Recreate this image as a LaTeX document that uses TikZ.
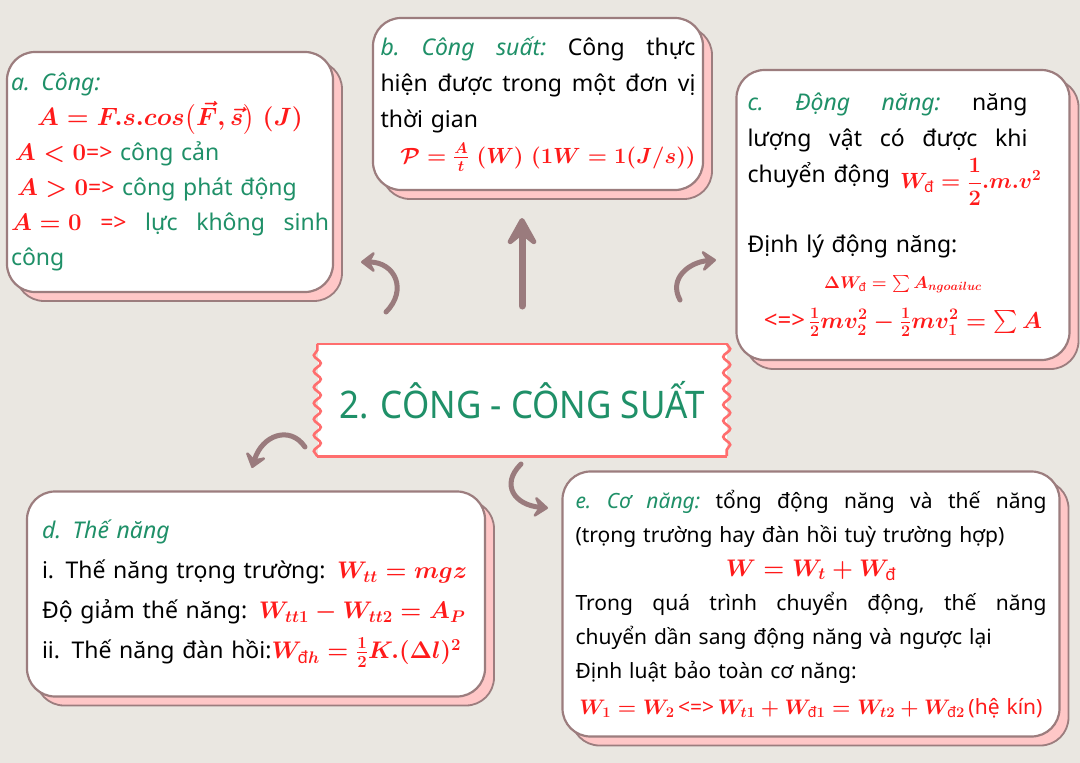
\documentclass[tikz,border=0pt]{standalone}
\usepackage{fix-cm}
\usepackage{amsmath, amssymb}
\usepackage{graphicx}
\usepackage{fontspec}
\setmainfont{Noto Sans}
\usepackage{xcolor}
\usetikzlibrary{arrows.meta, positioning, shadows, decorations.pathmorphing}

\definecolor{paper}{HTML}{EAE7E1}
\definecolor{edgebrown}{HTML}{9C7D7E}
\definecolor{arrowbrown}{HTML}{9A7B7D}
\definecolor{shadowpink}{HTML}{FFC7C7}
\definecolor{leafgreen}{HTML}{1F9068}
\definecolor{formred}{HTML}{FF1A1A}
\definecolor{tapered}{HTML}{FF6E6E}

\newcommand{\mathsz}{23}
\newcommand{\fml}[1]{\mbox{\color{formred}\fontsize{\mathsz}{\mathsz}\selectfont\boldmath$#1$}}
\newcommand{\head}[1]{{\color{leafgreen}\itshape #1}}
\newcommand{\spread}[2]{\makebox[#1][s]{\frenchspacing\spaceskip=0.28em plus 3em\relax #2}}
\newcommand{\midline}[2]{\makebox[#1]{#2}}
\newcommand{\dsub}{\text{\bfseries đ}}
\newcommand{\redtxt}[1]{{\color{formred}#1}}

\begin{document}
\begin{tikzpicture}[
  x=1pt, y=-1pt,
  box/.style={draw=edgebrown, line width=2.2pt, fill=white, rounded corners=28pt,
    align=left, inner sep=0pt, font=\fontsize{23}{35}\selectfont,
    drop shadow={shadow xshift=9pt, shadow yshift=-9pt, fill=shadowpink,
      draw=edgebrown, line width=1.8pt, opacity=1}},
  titlebox/.style={fill=white, inner sep=0pt, minimum width=409pt, minimum height=112pt,
    text=leafgreen, font=\fontsize{38}{40}\selectfont},
  tapeedge/.style={draw=tapered, line width=2.6pt},
  flick/.style={draw=arrowbrown, line width=5pt, line cap=round,
    -{Stealth[round, length=17pt, width=26pt, inset=7pt]}},
  bigflick/.style={draw=arrowbrown, line width=7pt, line cap=round,
    -{Stealth[round, length=36pt, width=40pt, inset=16pt]}}
]
\fill[paper] (0,0) rectangle (1080,763);
\useasboundingbox (0,0) rectangle (1080,763);

% boxes
\node[box, text=leafgreen, minimum width=326pt, minimum height=240pt, text width=318pt] (cong) at (170,172) {%
\renewcommand{\mathsz}{24}%
\head{a. Công:}\\
\midline{318pt}{\renewcommand{\mathsz}{25}\fml{A = F.s.cos\bigl(\vec{F},\vec{s}\bigr)\ (J)}}\\
\hspace*{4pt}\fml{A<0}\redtxt{=>} công cản\\
\hspace*{6pt}\fml{A>0}\redtxt{=>} công phát động\\
\spread{318pt}{\fml{A=0} \redtxt{=>} lực không sinh}\\
công};

\node[box, minimum width=330pt, minimum height=172pt, text width=315pt,
  font=\fontsize{23}{36}\selectfont] (suat) at (538,104) {%
\spread{315pt}{\head{b. Công suất:} Công thực}\\
\spread{315pt}{hiện được trong một đơn vị}\\
thời gian\\
\makebox[315pt][r]{\renewcommand{\mathsz}{22}\fml{\mathcal{P}=\frac{A}{t}\ (W)\ (1W=1(J/s))}}};

\node[box, minimum width=333pt, minimum height=290pt, text width=311pt,
  font=\fontsize{23}{36}\selectfont] (dong) at (903,215) {%
\spread{280pt}{\head{c. Động năng:} năng}\\
\spread{280pt}{lượng vật có được khi}\\
\mbox{chuyển động\hspace{10pt}\raisebox{-6pt}{\renewcommand{\mathsz}{22}\fml{W_{\dsub}=\dfrac{1}{2}.m.v^2}}}\\[28pt]
Định lý động năng:\\
\midline{311pt}{\renewcommand{\mathsz}{17}\fml{\Delta W_{\dsub}=\sum A_{ngoailuc}}}\\[4pt]
\midline{311pt}{\renewcommand{\mathsz}{23}\fontsize{24}{28}\selectfont\redtxt{<=>}\,\fml{\frac12 mv_2^2-\frac12 mv_1^2=\sum A}}};

\node[box, minimum width=458pt, minimum height=205pt, text width=428pt,
  font=\fontsize{23}{40}\selectfont] (the) at (256,594) {%
\renewcommand{\mathsz}{24}%
\head{d. Thế năng}\\
i. Thế năng trọng trường: \fml{W_{tt}=mgz}\\
Độ giảm thế năng: \fml{W_{tt1}-W_{tt2}=A_P}\\
ii. Thế năng đàn hồi:\fml{W_{\dsub h}=\frac12K.(\Delta l)^2}};

\node[box, minimum width=497pt, minimum height=265pt, text width=471pt,
  font=\fontsize{21}{34}\selectfont] (co) at (811,604) {%
\spread{471pt}{\head{e. Cơ năng:} tổng động năng và thế năng}\\
(trọng trường hay đàn hồi tuỳ trường hợp)\\
\midline{471pt}{\renewcommand{\mathsz}{24}\fml{W=W_t+W_{\dsub}}}\\
\spread{471pt}{Trong quá trình chuyển động, thế năng}\\
chuyển dần sang động năng và ngược lại\\
Định luật bảo toàn cơ năng:\\[2pt]
\midline{471pt}{\renewcommand{\mathsz}{21}\fontsize{21}{24}\selectfont\fml{W_1=W_2}\,\redtxt{<=>}\,\fml{W_{t1}+W_{\dsub1}=W_{t2}+W_{\dsub2}}\,\redtxt{(hệ kín)}}};

% title tape
\node[titlebox] (title) at (522,400) {\scalebox{0.92}[1]{2. CÔNG - CÔNG SUẤT}};
\draw[tapeedge] (title.north west) -- (title.north east);
\draw[tapeedge] (title.south west) -- (title.south east);
\draw[tapeedge, decorate, decoration={snake, segment length=16pt, amplitude=3.5pt}]
  (title.north east) -- (title.south east);
\draw[tapeedge, decorate, decoration={snake, segment length=16pt, amplitude=3.5pt}]
  (title.south west) -- (title.north west);

% arrows
\coordinate (up0) at (522,306);
\coordinate (up1) at (522,218);
\coordinate (tl0) at (386,312);
\coordinate (tl1) at (361,262);
\coordinate (tr0) at (680,300);
\coordinate (tr1) at (716,260);
\coordinate (bl0) at (305,447);
\coordinate (bl1) at (252,468);
\coordinate (bc0) at (521,464);
\coordinate (bc1) at (548,508);
\draw[bigflick] (up0) -- (up1);
\draw[flick] (tl0) .. controls (408,290) and (395,262) .. (tl1);
\draw[flick] (tr0) .. controls (668,278) and (690,262) .. (tr1);
\draw[flick] (bl0) .. controls (290,425) and (262,435) .. (bl1);
\draw[flick] (bc0) .. controls (500,485) and (515,505) .. (bc1);
\end{tikzpicture}
\end{document}
